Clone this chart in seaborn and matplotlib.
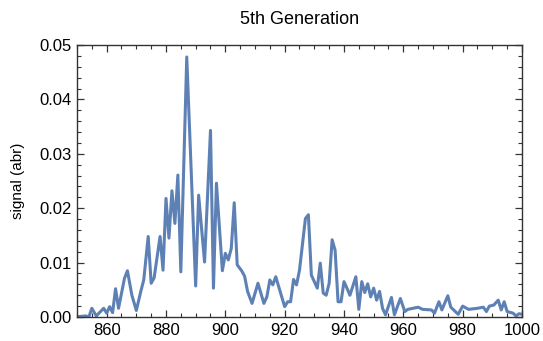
import numpy as np
import pandas as pd
import matplotlib
matplotlib.use("Agg")
import matplotlib.pyplot as plt
from matplotlib.ticker import MultipleLocator
import seaborn as sns

# longueurs d'onde (nm) et signal
wavelength = [849, 853, 854, 855, 856.5, 859, 860, 861, 862, 863, 864, 866, 867,
              868.5, 870, 871.5, 872.5, 874, 875, 876, 878, 879, 880, 881, 882,
              883, 884, 885, 887, 890, 891, 893, 895, 896, 897, 899, 900, 901,
              902, 903, 904, 905.5, 906.5, 907.5, 909, 911, 913, 914, 915, 916,
              917, 920, 921, 922, 923, 924, 925, 927, 928, 929, 931, 932, 933,
              934, 935, 936, 937, 938, 939, 940, 941, 942, 944, 945, 946, 947,
              948, 949, 950, 951, 952, 953, 954, 956, 957, 959, 960.5, 961.5,
              965, 966.5, 969.5, 970.5, 972, 973, 975, 976, 978.5, 980, 982,
              985, 987, 988, 989, 990.5, 992, 993, 994, 995, 997, 998, 999, 1001]
signal = [0.0, 0.0002, 0.0, 0.0016, 0.0002, 0.0016, 0.0007, 0.0019, 0.0008,
          0.0052, 0.0016, 0.0071, 0.0085, 0.0040, 0.0012, 0.0047, 0.0068,
          0.0148, 0.0062, 0.0072, 0.0148, 0.0086, 0.0218, 0.0145, 0.0232,
          0.0172, 0.0261, 0.0083, 0.0478, 0.0057, 0.0224, 0.0101, 0.0343,
          0.0053, 0.0246, 0.0085, 0.0117, 0.0105, 0.0126, 0.0210, 0.0096,
          0.0085, 0.0075, 0.0047, 0.0025, 0.0062, 0.0025, 0.0037, 0.0068,
          0.0059, 0.0074, 0.0019, 0.0028, 0.0028, 0.0069, 0.0059, 0.0086,
          0.0181, 0.0188, 0.0077, 0.0053, 0.0099, 0.0044, 0.0040, 0.0062,
          0.0142, 0.0123, 0.0028, 0.0028, 0.0065, 0.0053, 0.0040, 0.0074,
          0.0014, 0.0065, 0.0045, 0.0061, 0.0037, 0.0053, 0.0031, 0.0047,
          0.0016, 0.0004, 0.0036, 0.0004, 0.0034, 0.0010, 0.0014, 0.0018,
          0.0014, 0.0013, 0.0007, 0.0028, 0.0013, 0.0039, 0.0018, 0.0005,
          0.0020, 0.0014, 0.0016, 0.0018, 0.0010, 0.0020, 0.0022, 0.0031,
          0.0013, 0.0028, 0.0010, 0.0007, 0.0002, 0.0006, 0.0004]

df = pd.DataFrame({"wavelength": wavelength, "signal": signal})

sns.set_style("ticks")
plt.rcParams["font.family"] = ["Liberation Sans", "DejaVu Sans"]
plt.rcParams["text.color"] = "black"
plt.rcParams["axes.labelcolor"] = "black"

fig = plt.figure(figsize=(5.43, 3.41), dpi=100)
ax = fig.add_axes([0.1418, 0.0704, 0.8195, 0.7976])

sns.lineplot(data=df, x="wavelength", y="signal", color="#5E81B5",
             linewidth=2.2, ax=ax, estimator=None, sort=False)

ax.set_xlim(850, 1000)
ax.set_ylim(0, 0.05)
ax.xaxis.set_major_locator(MultipleLocator(20))
ax.xaxis.set_minor_locator(MultipleLocator(5))
ax.yaxis.set_major_locator(MultipleLocator(0.01))
ax.yaxis.set_minor_locator(MultipleLocator(0.002))
ax.yaxis.set_major_formatter(lambda v, p: f"{v:.2f}")

for s in ax.spines.values():
    s.set_visible(True)
    s.set_color("#333333")
    s.set_linewidth(1.0)

ax.tick_params(which="both", direction="in", top=True, right=True,
               labelsize=12, color="#333333", labelcolor="black", pad=4)
ax.tick_params(which="major", length=5, width=0.9)
ax.tick_params(which="minor", length=3, width=0.8)

ax.set_title("5th Generation", fontsize=13, pad=15, color="black")
ax.set_xlabel("")
ax.set_ylabel("signal (abr)", fontsize=11, labelpad=10)

plt.savefig("out.png", dpi=100)
